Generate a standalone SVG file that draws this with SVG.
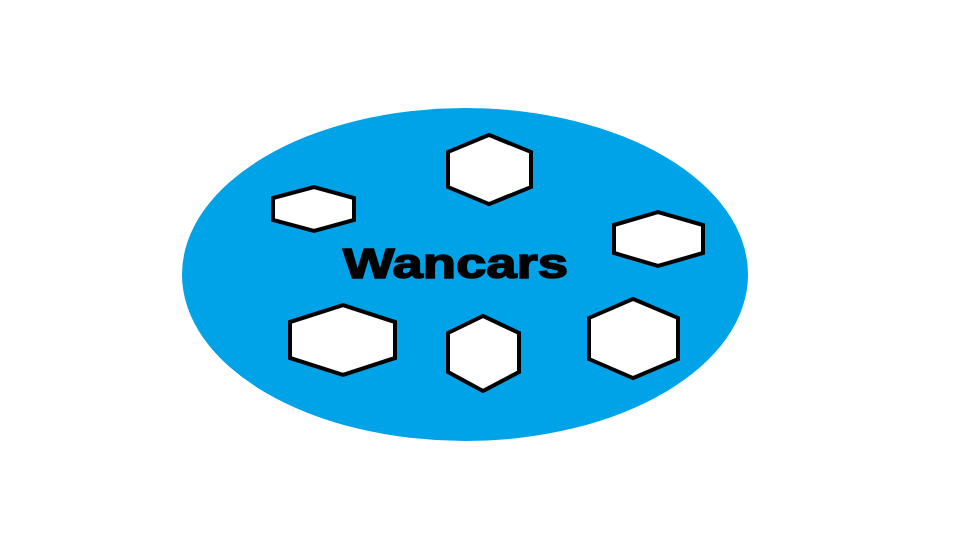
<svg xmlns="http://www.w3.org/2000/svg" width="960" height="540" viewBox="0 0 960 540">
<style>
.hex{fill:#ffffff;stroke:#000000;stroke-width:4;stroke-linejoin:miter}
.lbl{font-family:"Liberation Sans",Arial,sans-serif;font-weight:bold;font-size:43px;fill:#000;stroke:#000;stroke-width:1.6}
</style>
<rect width="960" height="540" fill="#ffffff"/>
<g id="wancars">
<ellipse cx="465" cy="274.5" rx="283" ry="166.5" fill="#00a2e8"/>
<text class="lbl" x="343" y="278" textLength="225" lengthAdjust="spacingAndGlyphs">Wancars</text>
</g>
<g id="hex1"><polygon class="hex" points="273,198 314,187 354,198 354,220 314,231 273,220"/></g>
<g id="hex2"><polygon class="hex" points="448,152 489,135 531,152 531,187 489,204 448,187"/></g>
<g id="hex3"><polygon class="hex" points="614,225 658,212 703,225 703,253 658,266 614,253"/></g>
<g id="hex4"><polygon class="hex" points="290,322 343,305 395,322 395,358 343,375 290,358"/></g>
<g id="hex5"><polygon class="hex" points="448,333 483,316 519,333 519,372 483,391 448,372"/></g>
<g id="hex6"><polygon class="hex" points="589,318 633,299 678,318 678,359 633,378 589,359"/></g>
<g id="connectors"></g>
</svg>
